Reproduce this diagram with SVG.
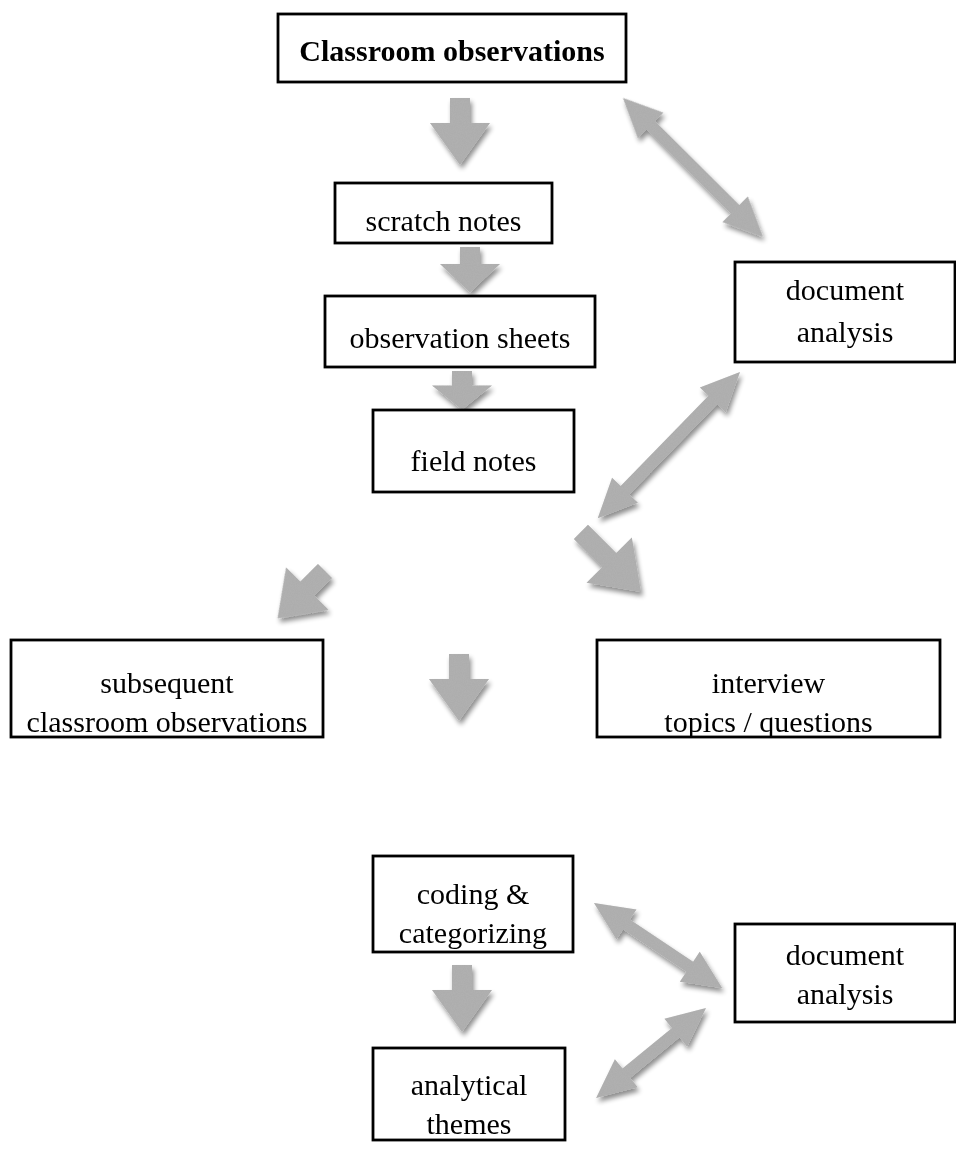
<svg xmlns="http://www.w3.org/2000/svg" xmlns:xlink="http://www.w3.org/1999/xlink" width="956" height="1149" viewBox="0 0 956 1149">
<style>
.box{fill:#ffffff;stroke:#000000;stroke-width:2.8}
.t{font-family:"Liberation Serif","Times New Roman",serif;font-size:30px;fill:#000000;text-anchor:middle}
.b{font-weight:bold}
.arr{fill:#adadad}
</style>
<defs>
<filter id="fx" filterUnits="userSpaceOnUse" x="0" y="0" width="956" height="1149">
<feGaussianBlur in="SourceAlpha" stdDeviation="2.5" result="bl"/>
<feOffset in="bl" dx="2" dy="4" result="off"/>
<feComponentTransfer in="off" result="sh"><feFuncA type="linear" slope="0.45"/></feComponentTransfer>
<feTurbulence type="fractalNoise" baseFrequency="0.9" numOctaves="2" seed="4" result="n"/>
<feColorMatrix in="n" type="matrix" values="0 0 0 0 0.45  0 0 0 0 0.45  0 0 0 0 0.45  0 0 0 0.9 -0.2" result="gn"/>
<feComposite in="gn" in2="SourceAlpha" operator="in" result="gnc"/>
<feMerge><feMergeNode in="sh"/><feMergeNode in="SourceGraphic"/><feMergeNode in="gnc"/></feMerge>
</filter>
<path id="down" d="M-10,0 H10 V25 H30 L0,67 L-30,25 H-10 Z"/>
</defs>
<rect width="956" height="1149" fill="#ffffff"/>
<g id="connectors" class="arr" filter="url(#fx)">
<use xlink:href="#down" transform="translate(460,98)"/>
<use xlink:href="#down" transform="translate(470,247) scale(1,0.68)"/>
<use xlink:href="#down" transform="translate(462,371) scale(1,0.58)"/>
<use xlink:href="#down" transform="translate(459,654)"/>
<use xlink:href="#down" transform="translate(462,965)"/>
<use xlink:href="#down" transform="translate(325,571) rotate(45)"/>
<path transform="translate(580.9,531.9) rotate(-45)" d="M-10,0 H10 V40 H32 L0,85 L-32,40 H-10 Z"/>
<path transform="translate(623,98) rotate(44.8)" d="M0,0 L39,-18 L39,-6 L158,-6 L158,-18 L197,0 L158,18 L158,6 L39,6 L39,18 Z"/>
<path transform="translate(740,372) rotate(134.2)" d="M0,0 L39,-18 L39,-6 L165,-6 L165,-18 L204,0 L165,18 L165,6 L39,6 L39,18 Z"/>
<path transform="translate(594,903) rotate(33.6)" d="M0,0 L39,-18 L39,-6 L115,-6 L115,-18 L154,0 L115,18 L115,6 L39,6 L39,18 Z"/>
<path transform="translate(706,1008) rotate(140.7)" d="M0,0 L39,-18 L39,-6 L103,-6 L103,-18 L142,0 L103,18 L103,6 L39,6 L39,18 Z"/>
</g>
<g id="n-classroom"><rect class="box" x="278" y="14" width="348" height="68"/><text class="t b" x="452" y="61">Classroom observations</text></g>
<g id="n-scratch"><rect class="box" x="335" y="183" width="217" height="60"/><text class="t" x="443.5" y="231">scratch notes</text></g>
<g id="n-obs"><rect class="box" x="325" y="296" width="270" height="71"/><text class="t" x="460" y="348">observation sheets</text></g>
<g id="n-field"><rect class="box" x="373" y="410" width="201" height="82"/><text class="t" x="473.5" y="471">field notes</text></g>
<g id="n-doc1"><rect class="box" x="735" y="262" width="220" height="100"/><text class="t" x="845" y="300">document</text><text class="t" x="845" y="342">analysis</text></g>
<g id="n-subsequent"><rect class="box" x="11" y="640" width="312" height="97"/><text class="t" x="167" y="693">subsequent</text><text class="t" x="167" y="732">classroom observations</text></g>
<g id="n-interview"><rect class="box" x="597" y="640" width="343" height="97"/><text class="t" x="768.5" y="693">interview</text><text class="t" x="768.5" y="732">topics / questions</text></g>
<g id="n-coding"><rect class="box" x="373" y="856" width="200" height="96"/><text class="t" x="473" y="904">coding &amp;</text><text class="t" x="473" y="943">categorizing</text></g>
<g id="n-doc2"><rect class="box" x="735" y="924" width="220" height="98"/><text class="t" x="845" y="965">document</text><text class="t" x="845" y="1004">analysis</text></g>
<g id="n-themes"><rect class="box" x="373" y="1048" width="192" height="92"/><text class="t" x="469" y="1095">analytical</text><text class="t" x="469" y="1134">themes</text></g>
</svg>
